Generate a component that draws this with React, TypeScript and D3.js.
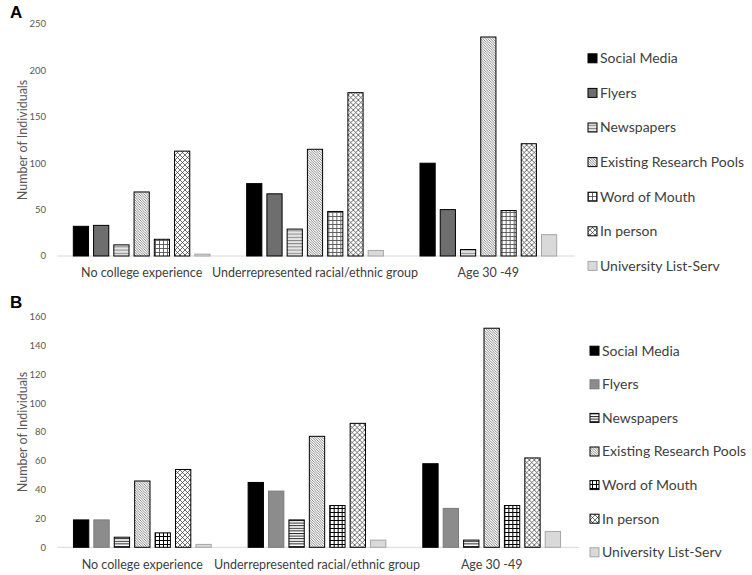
import React from "react";
import * as d3 from "d3";

const categories = ["No college experience", "Underrepresented racial/ethnic group", "Age 30 -49"];
const series = ["Social Media", "Flyers", "Newspapers", "Existing Research Pools", "Word of Mouth", "In person", "University List-Serv"];

// Panel A values [category][series]
const valuesA = [
  [32, 33, 12, 69, 18, 113, 2],
  [78, 67, 29, 115, 48, 176, 6],
  [100, 50, 7, 236, 49, 121, 23],
];
const valuesB = [
  [19, 19, 7, 46, 10, 54, 2],
  [45, 39, 19, 77, 29, 86, 5],
  [58, 27, 5, 152, 29, 62, 11],
];
const ticksA = [0, 50, 100, 150, 200, 250];
const ticksB = [0, 20, 40, 60, 80, 100, 120, 140, 160];

const FONT = "Lato, 'Open Sans', sans-serif";

type PanelCfg = {
  id: string;
  label: string;
  values: number[][];
  ticks: number[];
  yMax: number;
  yRange: [number, number];
  xRange: [number, number];
  catY: number;
  legendY0: number;
  legendStep: number;
  legendX: number;
  labelY: number;
};

const panels: PanelCfg[] = [
  { id: "A", label: "A", values: valuesA, ticks: ticksA, yMax: 250, yRange: [256, 24], xRange: [55, 575], catY: 273, legendY0: 58.3, legendStep: 34.6, legendX: 588, labelY: 18 },
  { id: "B", label: "B", values: valuesB, ticks: ticksB, yMax: 160, yRange: [547.3, 316.7], xRange: [55, 579], catY: 565, legendY0: 350.7, legendStep: 33.6, legendX: 590, labelY: 308 },
];

function fillFor(panel: string, s: number) {
  switch (s) {
    case 0: return "#000";
    case 1: return panel === "A" ? "#6e6e6e" : "#8c8c8c";
    case 2: return `url(#hl${panel})`;
    case 3: return `url(#dg${panel})`;
    case 4: return `url(#gr${panel})`;
    case 5: return `url(#xp${panel})`;
    default: return "#d9d9d9";
  }
}
function strokeFor(panel: string, s: number) {
  if (s === 6) return "#a6a6a6";
  if (s === 1 && panel === "B") return "#7a7a7a";
  return "#000";
}

function Defs({ p }: { p: string }) {
  const dark = p === "B";
  return (
    <>
      <pattern id={`hl${p}`} patternUnits="userSpaceOnUse" width={4} height={dark ? 2.6 : 3.2}>
        <rect width={4} height={4} fill={dark ? "#fff" : "#e6e6e6"} />
        <line x1={0} x2={4} y1={0.5} y2={0.5} stroke={dark ? "#222" : "#777"} strokeWidth={dark ? 1 : 0.9} />
      </pattern>
      <pattern id={`dg${p}`} patternUnits="userSpaceOnUse" width={2.5} height={2.5}>
        <rect width={2.5} height={2.5} fill="#fff" />
        <path d="M0,0 L2.5,2.5 M-1,1.5 L1,3.5 M1.5,-1 L3.5,1" stroke="#555" strokeWidth={0.7} />
      </pattern>
      <pattern id={`gr${p}`} patternUnits="userSpaceOnUse" width={4} height={4}>
        <rect width={4} height={4} fill="#fff" />
        <path d="M0,0.5 H4 M0.5,0 V4" stroke={dark ? "#000" : "#555"} strokeWidth={dark ? 1 : 0.9} />
      </pattern>
      <pattern id={`xp${p}`} patternUnits="userSpaceOnUse" width={5} height={5}>
        <rect width={5} height={5} fill="#fff" />
        <path d="M0,0 L5,5 M5,0 L0,5" stroke="#333" strokeWidth={0.7} />
      </pattern>
    </>
  );
}

function Panel({ cfg }: { cfg: PanelCfg }) {
  const y = d3.scaleLinear().domain([0, cfg.yMax]).range(cfg.yRange);
  const x0 = d3.scaleBand<string>().domain(categories).range(cfg.xRange).padding(0);
  const x1 = d3.scaleBand<string>().domain(series).range([0, x0.bandwidth()]).paddingInner(0.2).paddingOuter(0.88);
  const base = y(0);
  const axisColor = "#d9d9d9";
  const yMid = (cfg.yRange[0] + cfg.yRange[1]) / 2;
  return (
    <g>
      <text x={10} y={cfg.labelY} fontFamily="'Liberation Sans', Arial, sans-serif" fontWeight="bold" fontSize={17} fill="#000">{cfg.label}</text>
      {cfg.ticks.map((t) => (
        <text key={t} x={46} y={y(t)} dy="0.35em" textAnchor="end" fontFamily={FONT} fontSize={9.5} fill="#595959">{t}</text>
      ))}
      <text transform={`translate(23,${yMid}) rotate(-90)`} textAnchor="middle" dy="0.35em" fontFamily={FONT} fontSize={12.5} fill="#595959">Number of Individuals</text>
      <line x1={cfg.xRange[0] + 2} x2={cfg.xRange[1]} y1={base} y2={base} stroke={axisColor} strokeWidth={1} />
      {categories.map((c, ci) => (
        <g key={c} transform={`translate(${x0(c)},0)`}>
          {series.map((s, si) => {
            const v = cfg.values[ci][si];
            return (
              <rect key={s} x={x1(s)! + 0.5} y={y(v)} width={x1.bandwidth() - 1} height={base - y(v)}
                fill={fillFor(cfg.id, si)} stroke={strokeFor(cfg.id, si)} strokeWidth={1} />
            );
          })}
          <text x={x0.bandwidth() / 2} y={cfg.catY} dy="0.35em" textAnchor="middle" fontFamily={FONT} fontSize={12.5} fill="#404040">{c}</text>
        </g>
      ))}
      {series.map((s, si) => {
        const ly = cfg.legendY0 + si * cfg.legendStep;
        return (
          <g key={s}>
            <rect x={cfg.legendX} y={ly - 4.5} width={9} height={9} fill={fillFor(cfg.id, si)} stroke={strokeFor(cfg.id, si)} strokeWidth={1} />
            <text x={cfg.legendX + 12} y={ly} dy="0.35em" fontFamily={FONT} fontSize={14} fill="#404040">{s}</text>
          </g>
        );
      })}
    </g>
  );
}

export default function App() {
  return (
    <svg width={752} height={575} style={{ position: "absolute", left: 0, top: 0, background: "#fff" }}>
      <defs>
        <Defs p="A" />
        <Defs p="B" />
      </defs>
      <rect width={752} height={575} fill="#fff" />
      {panels.map((p) => <Panel key={p.id} cfg={p} />)}
    </svg>
  );
}
